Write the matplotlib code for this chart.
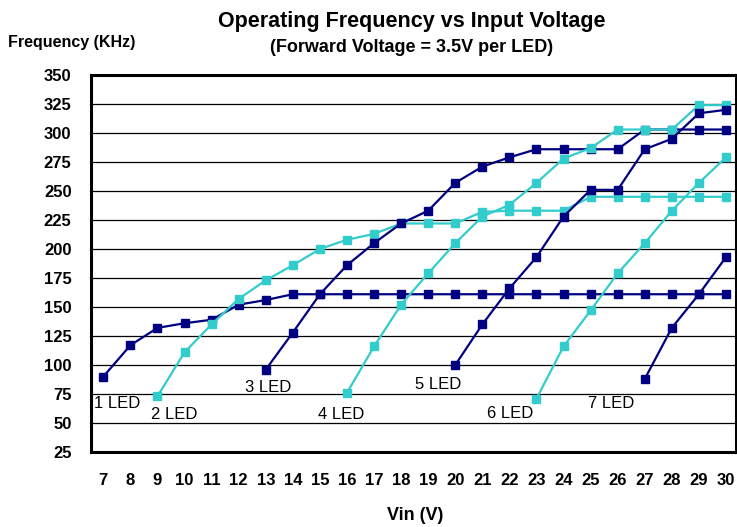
import matplotlib
matplotlib.use('Agg')
import matplotlib.pyplot as plt

plt.rcParams['font.family'] = ['Liberation Sans', 'DejaVu Sans']

# Vin values (V) and frequency (KHz) for each LED count
vin_1 = list(range(7, 31))
freq_1 = [90, 117, 132, 136, 139, 152, 156, 161, 161, 161, 161, 161, 161, 161,
          161, 161, 161, 161, 161, 161, 161, 161, 161, 161]

vin_2 = list(range(9, 31))
freq_2 = [73, 111, 135, 157, 173, 186, 200, 208, 213, 222, 222, 222, 232, 233,
          233, 233, 245, 245, 245, 245, 245, 245]

vin_3 = list(range(13, 31))
freq_3 = [96, 128, 161, 186, 205, 222, 233, 257, 271, 279, 286, 286, 286, 286,
          303, 303, 303, 303]

vin_4 = list(range(16, 31))
freq_4 = [76, 116, 152, 179, 205, 228, 238, 257, 278, 287, 303, 303, 303, 324, 324]

vin_5 = list(range(20, 31))
freq_5 = [100, 135, 166, 193, 228, 251, 251, 286, 295, 317, 320]

vin_6 = list(range(23, 31))
freq_6 = [71, 116, 147, 179, 205, 233, 257, 279]

vin_7 = list(range(27, 31))
freq_7 = [88, 132, 161, 193]

series = [(vin_1, freq_1), (vin_2, freq_2), (vin_3, freq_3), (vin_4, freq_4),
          (vin_5, freq_5), (vin_6, freq_6), (vin_7, freq_7)]

label_text = ['1 LED', '2 LED', '3 LED', '4 LED', '5 LED', '6 LED', '7 LED']
label_x = [7.52, 9.61, 13.08, 15.78, 19.35, 22.02, 25.75]
label_y = [67, 57, 81, 57.5, 83, 58, 67]

navy = '#000080'
cyan = '#33CCCC'

fig = plt.figure(figsize=(7.37, 5.27), dpi=100)
ax = fig.add_axes([91 / 737, 75 / 527, 645 / 737, 377 / 527])

for i, (vx, fy) in enumerate(series):
    color = navy if i % 2 == 0 else cyan
    ax.plot(vx, fy, color=color, lw=1.6, marker='s', markersize=5.8,
            markeredgecolor=color, zorder=3)

for t, x, y in zip(label_text, label_x, label_y):
    ax.text(x, y, t, fontsize=12, ha='center', va='center', zorder=4)

ax.set_xlim(6.545, 30.37)
ax.set_ylim(25, 350)
ax.set_xticks(range(7, 31))
ax.set_yticks(range(25, 351, 25))
ax.tick_params(length=0, labelsize=12)
ax.tick_params(axis='y', pad=14)
ax.tick_params(axis='x', pad=15)
for lbl in ax.get_xticklabels() + ax.get_yticklabels():
    lbl.set_fontweight('bold')

ax.grid(axis='y', color='black', lw=0.9)
ax.set_axisbelow(True)
for s in ax.spines.values():
    s.set_linewidth(2.2)
    s.set_color('black')

fig.text(412 / 737, 1 - 21 / 527, 'Operating Frequency vs Input Voltage',
         ha='center', va='center', fontsize=15.5, fontweight='bold')
fig.text(412 / 737, 1 - 47 / 527, '(Forward Voltage = 3.5V per LED)',
         ha='center', va='center', fontsize=13, fontweight='bold')
fig.text(8 / 737, 1 - 42 / 527, 'Frequency (KHz)', ha='left', va='center',
         fontsize=11.5, fontweight='bold')
fig.text(415 / 737, 1 - 515 / 527, 'Vin (V)', ha='center', va='center',
         fontsize=13, fontweight='bold')

fig.savefig('out.png', dpi=100)
